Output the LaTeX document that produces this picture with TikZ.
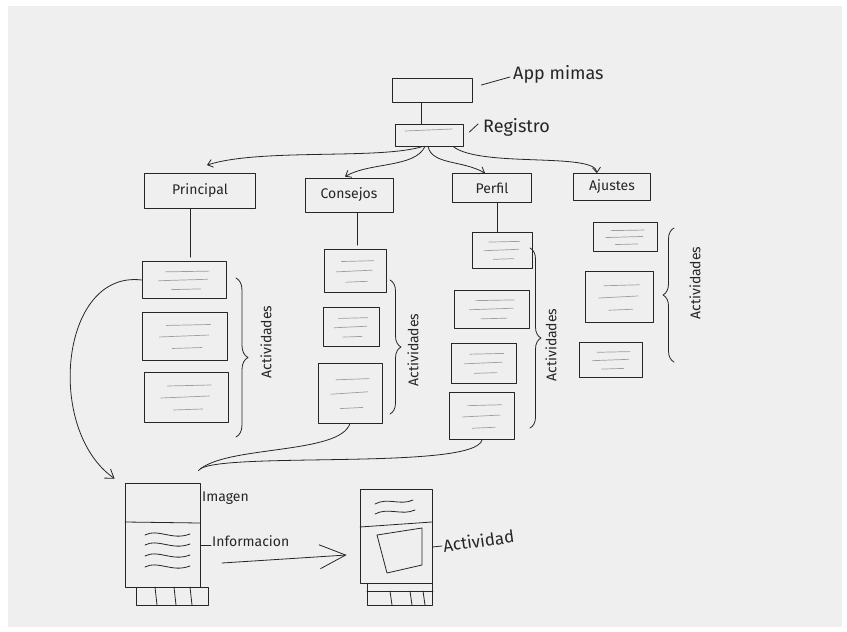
\documentclass[tikz,border=0pt]{standalone}
\usepackage{fontspec}
\setmainfont{Fira Sans}
\usetikzlibrary{arrows.meta,decorations.pathreplacing}
\definecolor{papel}{HTML}{EFEFEF}
\definecolor{tinta}{HTML}{262626}
\tikzset{
  lapiz/.style={draw=tinta, line width=0.8pt, line cap=round, line join=round},
  caja/.style={lapiz, inner sep=0pt, text=tinta},
  renglon/.style={draw=gray!75, line width=0.7pt, line cap=round},
  letra/.style={text=tinta, inner sep=1pt},
  flecha/.style={lapiz, -{Straight Barb[length=5pt,width=8pt]}},
  llave/.style={lapiz, decorate, decoration={brace, amplitude=#1}},
  llave/.default=11pt,
  titulo/.style={font=\fontsize{14}{16}\selectfont},
}
\begin{document}
\begin{tikzpicture}[x=1pt,y=-1pt]
   \useasboundingbox (0,0) rectangle (847,632);
   \fill[white] (0,0) rectangle (847,632);
   \fill[papel] (8,6) rectangle (842,627);

   % 上部
   \node[caja, minimum width=80, minimum height=24] (app) at (432,90) {};
   \node[caja, minimum width=68, minimum height=22] (reg) at (429,135) {};
   \draw[renglon] (405,131) -- (452,129);
   \node[letra, anchor=west, font=\fontsize{18}{20}\selectfont] (appt) at (512,74) {App mimas};
   \node[letra, anchor=west, font=\fontsize{18}{20}\selectfont] (regt) at (482,127) {Registro};
   \draw[lapiz] ([xshift=9pt,yshift=5pt]app.east) -- ([xshift=-2pt,yshift=-3pt]appt.west);
   \draw[lapiz] ([xshift=6pt,yshift=3pt]reg.east) -- ([xshift=-4pt,yshift=3pt]regt.west);
   \draw[lapiz] ([xshift=-11pt]app.south) -- ([xshift=-11pt]app.south |- reg.north);

   % 見出し
   \node[caja, titulo, minimum width=111, minimum height=35] (pri) at (200,191) {Principal};
   \node[caja, titulo, minimum width=88, minimum height=34] (con) at (349,195) {Consejos};
   \node[caja, titulo, minimum width=79, minimum height=29] (per) at (492,188) {Perfil};
   \node[caja, titulo, minimum width=77, minimum height=27] (aju) at (612,187) {Ajustes};

   \draw[flecha] ([xshift=-6pt]reg.south) .. controls (380,160) and (260,148) .. ([xshift=7pt,yshift=8pt]pri.north);
   \draw[flecha] ([xshift=-4pt]reg.south) .. controls (415,168) and (370,162) .. ([xshift=-4pt,yshift=1pt]con.north);
   \draw[flecha] ([xshift=-1pt]reg.south) .. controls (432,165) and (462,160) .. ([xshift=-7pt]per.north);
   \draw[flecha] ([xshift=24pt]reg.south) .. controls (480,168) and (595,152) .. ([xshift=-15pt]aju.north);

   % actividades
   \foreach \n/\x/\y/\w/\h in {pri1/184/280/84/37, pri2/185/336/85/48, pri3/186/397/84/50,
      con1/355/271/62/43, con2/351/327/56/39, con3/350/393/64/60,
      per1/502/250/60/36, per2/492/309/75/38, per3/484/363/65/40, per4/482/416/65/47,
      aju1/625/237/64/29, aju2/619/297/68/51, aju3/611/360/63/35} {
      \node[caja, minimum width=\w, minimum height=\h] (\n) at (\x,\y) {};
      \draw[renglon] ({\x-0.22*\w},{\y-0.22*\h}) -- ({\x+0.3*\w},{\y-0.24*\h});
      \draw[renglon] ({\x-0.3*\w},{\y+0.02*\h}) -- ({\x+0.28*\w},{\y-0.02*\h});
      \draw[renglon] ({\x-0.15*\w},{\y+0.26*\h}) -- ({\x+0.2*\w},{\y+0.24*\h});
   }
   \draw[lapiz] ([xshift=-10pt]pri.south) -- ([xshift=-10pt,yshift=4pt]pri.south |- pri1.north);
   \draw[lapiz] ([xshift=8pt]con.south) -- ([xshift=8pt,yshift=4pt]con.south |- con1.north);
   \draw[lapiz] ([xshift=5pt]per.south) -- ([xshift=5pt]per.south |- per1.north);

   % llaves
   \draw[llave=12pt] (236,278) -- (236,437);
   \node[letra, titulo, rotate=90] (act1) at (266,342) {Actividades};
   \draw[llave] (390,280) -- (390,414);
   \node[letra, titulo, rotate=90] (act2) at (413,350) {Actividades};
   \draw[llave] (530,248) -- (530,428);
   \node[letra, titulo, rotate=90] (act3) at (551,345) {Actividades};
   \draw[llave, decoration={mirror}] (674,228) -- (674,362);
   \node[letra, titulo, rotate=90] (act4) at (695,283) {Actividades};

   % pantallas
   \node[caja, minimum width=75, minimum height=104] (tel1) at (162.5,535) {};
   \node[caja, minimum width=72, minimum height=18, anchor=north] (nav1) at ([xshift=10pt]tel1.south) {};
   \foreach \u in {155,174,190} \draw[lapiz] (\u,587) -- ({\u+2},605);
   \draw[lapiz] (125,522) -- (200,523);
   \foreach \v in {535,545,556,567}
      \draw[lapiz] (145,\v) .. controls (158,{\v-7}) and (172,{\v+6}) .. (190,{\v-1});
   \node[letra, titulo, anchor=west] (ima) at (201,498) {Imagen};
   \node[letra, titulo, anchor=west] (info) at (211,541) {Informacion};
   \draw[lapiz] ([yshift=-10pt]tel1.east) -- ([yshift=-4pt]info.west);

   \node[caja, minimum width=72, minimum height=94] (tel2) at (396,536) {};
   \node[caja, minimum width=65, minimum height=22, anchor=north] (nav2) at ([xshift=4pt]tel2.south) {};
   \draw[lapiz] (nav2.west |- 0,591) -- (nav2.east |- 0,591);
   \foreach \u in {390,410,423} \draw[lapiz] (\u,591) -- ({\u+2},605);
   \draw[lapiz] (360,527) -- (432,522);
   \draw[lapiz] (375,504) .. controls (388,497) and (400,506) .. (413,500);
   \draw[lapiz] (375,514) .. controls (388,507) and (402,516) .. (415,510);
   \draw[lapiz] (377,535) -- (422,528) -- (422,565) -- (387,573) -- cycle;
   \node[letra, anchor=west, rotate=8, font=\fontsize{17}{19}\selectfont] (act) at (442,546) {Actividad};
   \draw[lapiz] ([yshift=-11pt]tel2.east) -- (act.west);

   % conexiones
   \coordinate (ini) at (222,563);
   \draw[lapiz, -{Straight Barb[length=26pt,width=24pt]}] (ini) -- ([xshift=-13pt,yshift=-19pt]tel2.west);
   \draw[lapiz, -{Straight Barb[length=8pt,width=11pt]}] (pri1.west) .. controls (60,270) and (45,430) .. ([xshift=-10pt,yshift=4pt]tel1.north west);
   \draw[lapiz] (con3.south) .. controls (340,455) and (225,445) .. ([xshift=-2pt,yshift=12pt]tel1.north east);
   \draw[lapiz] (per4.south) .. controls (475,470) and (230,452) .. ([yshift=14pt]tel1.north east);

\end{tikzpicture}
\end{document}
